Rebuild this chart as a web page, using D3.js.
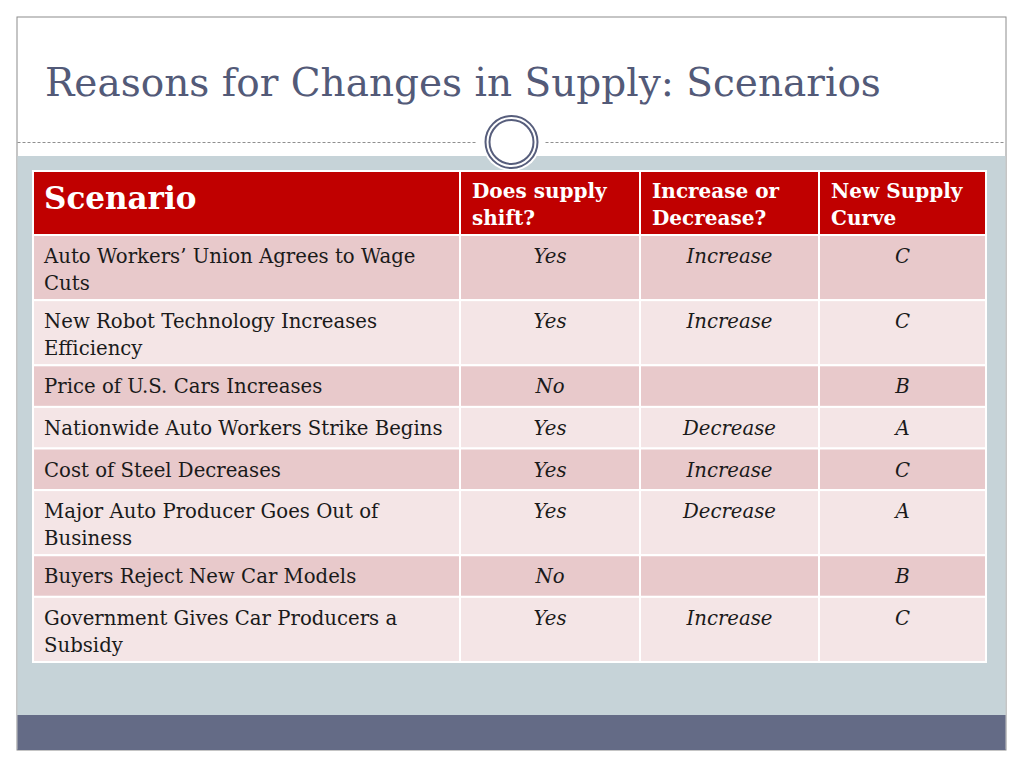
<!DOCTYPE html>
<html>
<head>
<meta charset="utf-8">
<script src="https://cdn.jsdelivr.net/npm/d3@7"></script>
<style>
  body { margin: 0; background: #fff; }
  svg { display: block; }
</style>
</head>
<body>
<svg id="slide"></svg>
<script>
// table content
var title = "Reasons for Changes in Supply: Scenarios";
var headers = [["Scenario"], ["Does supply", "shift?"], ["Increase or", "Decrease?"], ["New Supply", "Curve"]];
var scenarios = [
    ["Auto Workers\u2019 Union Agrees to Wage", "Cuts"],
    ["New Robot Technology Increases", "Efficiency"],
    ["Price of U.S. Cars Increases"],
    ["Nationwide Auto Workers Strike Begins"],
    ["Cost of Steel Decreases"],
    ["Major Auto Producer Goes Out of", "Business"],
    ["Buyers Reject New Car Models"],
    ["Government Gives Car Producers a", "Subsidy"]
];
var shifts = ["Yes", "Yes", "No", "Yes", "Yes", "Yes", "No", "Yes"];
var directions = ["Increase", "Increase", "", "Decrease", "Increase", "Decrease", "", "Increase"];
var curves = ["C", "C", "B", "A", "C", "A", "B", "C"];

var width = 1024;
var height = 768;
var svg = d3.select("#slide")
    .attr("width", width)
    .attr("height", height);

var serif = "'DejaVu Serif', Georgia, serif";

// slide frame
svg.append("rect")
    .attr("x", 17).attr("y", 17)
    .attr("width", 989).attr("height", 733)
    .attr("fill", "#fff")
    .attr("stroke", "#8c8c8c")
    .attr("stroke-width", 1);

svg.append("rect")
    .attr("x", 17.5).attr("y", 156)
    .attr("width", 988).attr("height", 559)
    .attr("fill", "#c6d3d8");

svg.append("rect")
    .attr("x", 17.5).attr("y", 715)
    .attr("width", 988).attr("height", 35)
    .attr("fill", "#646b86");

// dashed divider with the ring in the middle
var cx = 511.5, cy = 142;
[[17.5, cx - 34], [cx + 34, 1005.5]].forEach(function(seg) {
    svg.append("line")
        .attr("x1", seg[0]).attr("x2", seg[1])
        .attr("y1", cy + 0.5).attr("y2", cy + 0.5)
        .attr("stroke", "#8f8f8f")
        .attr("stroke-width", 1)
        .attr("stroke-dasharray", "3,2");
});
svg.append("circle").attr("cx", cx).attr("cy", cy).attr("r", 29).attr("fill", "#fff");
svg.append("circle").attr("cx", cx).attr("cy", cy).attr("r", 26)
    .attr("fill", "none").attr("stroke", "#575e7c").attr("stroke-width", 2);
svg.append("circle").attr("cx", cx).attr("cy", cy).attr("r", 22)
    .attr("fill", "#fff").attr("stroke", "#575e7c").attr("stroke-width", 2);

svg.append("text")
    .attr("x", 45).attr("y", 96)
    .attr("font-family", serif)
    .attr("font-size", 39)
    .attr("fill", "#535a78")
    .text(title);

// table scales
var xCol = d3.scaleOrdinal().domain([0, 1, 2, 3]).range([33, 460, 640, 819]);
var colRight = 986;
var colW = function(i) { return (i < 3 ? xCol(i + 1) : colRight) - xCol(i); };

var rowUnits = scenarios.map(function(s) { return 18 + 23.5 * s.length; });
var cum = [0];
rowUnits.forEach(function(u, i) { cum.push(cum[i] + u); });
var yRow = d3.scaleLinear().domain([0, cum[cum.length - 1]]).range([235, 662]);

var headerTop = 171, headerBottom = 235;

// header
headers.forEach(function(h, i) {
    svg.append("rect")
        .attr("x", xCol(i)).attr("y", headerTop)
        .attr("width", colW(i)).attr("height", headerBottom - headerTop)
        .attr("fill", "#c00000")
        .attr("stroke", "#fff").attr("stroke-width", 2);
    var t = svg.append("text")
        .attr("font-family", serif)
        .attr("font-weight", "bold")
        .attr("fill", "#fff");
    if (i === 0) {
        t.attr("x", xCol(i) + 11).attr("y", 209).attr("font-size", 31).text(h[0]);
    } else {
        t.attr("font-size", 20);
        h.forEach(function(line, k) {
            t.append("tspan").attr("x", xCol(i) + 12).attr("y", 198 + 27 * k).text(line);
        });
    }
});

// body rows
var rows = svg.selectAll("g.row")
    .data(scenarios.map(function(s, i) {
        return { lines: s, cells: [shifts[i], directions[i], curves[i]], y0: yRow(cum[i]), y1: yRow(cum[i + 1]), i: i };
    }))
    .enter()
    .append("g")
    .attr("class", "row");

rows.each(function(d) {
    var g = d3.select(this);
    for (var c = 0; c < 4; c++) {
        g.append("rect")
            .attr("x", xCol(c)).attr("y", d.y0)
            .attr("width", colW(c)).attr("height", d.y1 - d.y0)
            .attr("fill", d.i % 2 === 0 ? "#e8c9cb" : "#f4e5e6")
            .attr("stroke", "#fff").attr("stroke-width", 2);
    }
    var t = g.append("text")
        .attr("font-family", serif)
        .attr("font-size", 19.7)
        .attr("fill", "#1a1a1a");
    d.lines.forEach(function(line, k) {
        t.append("tspan").attr("x", 44).attr("y", d.y0 + 28 + 27 * k).text(line);
    });
    d.cells.forEach(function(v, c) {
        g.append("text")
            .attr("x", xCol(c + 1) + colW(c + 1) / 2)
            .attr("y", d.y0 + 28)
            .attr("text-anchor", "middle")
            .attr("font-family", serif)
            .attr("font-style", "italic")
            .attr("font-size", 19.7)
            .attr("fill", "#1a1a1a")
            .text(v);
    });
});
</script>
</body>
</html>
